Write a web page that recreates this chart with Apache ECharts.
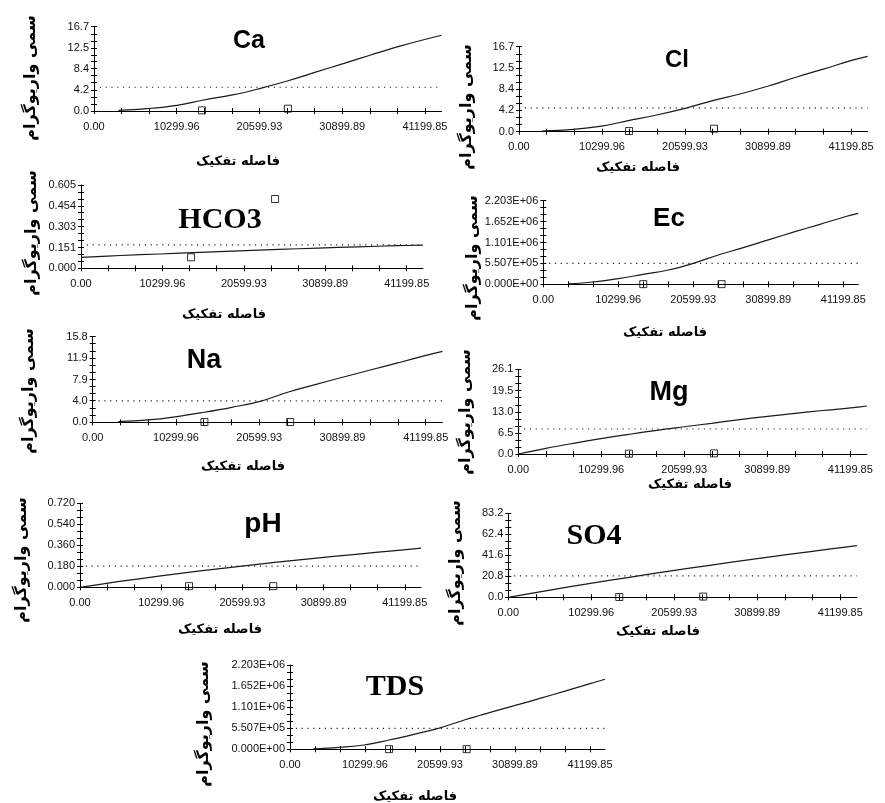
<!DOCTYPE html>
<html><head><meta charset="utf-8">
<script src="https://cdn.jsdelivr.net/npm/echarts@6/dist/echarts.min.js"></script>
<style>html,body{margin:0;padding:0;background:#fff}#c{width:885px;height:803px}</style>
</head><body><div id="c"></div>
<script>
// ---------- DATA ----------
const xTickLabels = ['0.00', '10299.96', '20599.93', '30899.89', '41199.85'];
const yAxisName = 'سمی واریوگرام';
const xAxisName = 'فاصله تفکیک';

// Ca
const caYTicks = ['0.0', '4.2', '8.4', '12.5', '16.7'];
const caCurveDist = [3040, 6575, 10320, 13650, 17400, 20720, 24050, 27380, 31130, 34460, 38200, 43260];
const caCurveVal  = [0.13, 0.46, 1.12, 2.18, 3.23, 4.49, 5.94, 7.59, 9.44, 11.1, 12.9, 15.0];
const caLagDist = [13440, 24140];
const caLagVal  = [0.13, 0.46];
const caSill = 4.7;

// Cl
const clYTicks = ['0.0', '4.2', '8.4', '12.5', '16.7'];
const clCurveDist = [2810, 6740, 10260, 13570, 17080, 20600, 24030, 27430, 30940, 34370, 37770, 41280, 43260];
const clCurveVal  = [0.13, 0.46, 1.11, 2.16, 3.28, 4.59, 6.1, 7.4, 8.97, 10.7, 12.3, 14.0, 14.8];
const clLagDist = [13650, 24200];
const clLagVal  = [0.13, 0.59];
const clSill = 4.7;

// HCO3
const hco3YTicks = ['0.000', '0.151', '0.303', '0.454', '0.605'];
const hco3CurveDist = [0, 5000, 10000, 15000, 20000, 25000, 30000, 35000, 40000, 43260];
const hco3CurveVal  = [0.080, 0.093, 0.104, 0.115, 0.126, 0.137, 0.147, 0.156, 0.164, 0.168];
const hco3LagDist = [13920, 24550];
const hco3LagVal  = [0.08, 0.503];
const hco3Sill = 0.17;

// Ec
const ecYTicks = ['0.000E+00', '5.507E+05', '1.101E+06', '1.652E+06', '2.203E+06'];
const ecCurveDist = [3430, 6870, 10300, 13730, 17170, 20600, 24030, 27470, 31130, 34560, 38000, 41430, 43260];
const ecCurveVal  = [8800, 61000, 149000, 263000, 377000, 553000, 772000, 965000, 1185000, 1387000, 1580000, 1780000, 1870000];
const ecLagDist = [13730, 24480];
const ecLagVal  = [4000, 4000];
const ecSill = 550000;

// Na
const naYTicks = ['0.0', '4.0', '7.9', '11.9', '15.8'];
const naCurveDist = [3180, 6890, 10400, 13780, 17210, 20720, 24220, 27520, 31030, 34330, 37840, 41350, 43260];
const naCurveVal  = [0.12, 0.43, 1.05, 1.85, 2.77, 3.87, 5.6, 6.96, 8.36, 9.66, 11.0, 12.4, 13.1];
const naLagDist = [13820, 24430];
const naLagVal  = [0.05, 0.05];
const naSill = 3.95;

// Mg
const mgYTicks = ['0.0', '6.5', '13.0', '19.5', '26.1'];
const mgCurveDist = [0, 3430, 6830, 10260, 13730, 17170, 20600, 23990, 27510, 30940, 34330, 37770, 41240, 43260];
const mgCurveVal  = [0, 1.75, 3.29, 4.73, 6.06, 7.3, 8.4, 9.46, 10.6, 11.6, 12.5, 13.4, 14.2, 14.8];
const mgLagDist = [13730, 24280];
const mgLagVal  = [0.1, 0.2];
const mgSill = 7.7;

// pH
const phYTicks = ['0.000', '0.180', '0.360', '0.540', '0.720'];
const phCurveDist = [0, 5000, 10000, 15000, 20000, 25000, 30000, 35000, 40000, 43260];
const phCurveVal  = [0, 0.05, 0.095, 0.138, 0.178, 0.215, 0.25, 0.283, 0.315, 0.335];
const phLagDist = [13830, 24520];
const phLagVal  = [0.01, 0.01];
const phSill = 0.182;

// SO4
const so4YTicks = ['0.0', '20.8', '41.6', '62.4', '83.2'];
const so4CurveDist = [0, 5000, 10000, 15000, 20000, 25000, 30000, 35000, 40000, 43260];
const so4CurveVal  = [0, 6.9, 13.5, 19.8, 25.9, 31.7, 37.3, 42.7, 47.9, 51.2];
const so4LagDist = [13770, 24190];
const so4LagVal  = [0.3, 0.7];
const so4Sill = 21.3;

// TDS
const tdsYTicks = ['0.000E+00', '5.507E+05', '1.101E+06', '1.652E+06', '2.203E+06'];
const tdsCurveDist = [3200, 6730, 10160, 13600, 17030, 20370, 23940, 27380, 30810, 34330, 37770, 41200, 43260];
const tdsCurveVal  = [8700, 52000, 113000, 244000, 392000, 548000, 767000, 958000, 1140000, 1330000, 1520000, 1715000, 1830000];
const tdsLagDist = [13600, 24260];
const tdsLagVal  = [4000, 4000];
const tdsSill = 548000;

// ---------- LAYOUT ----------
const panels = [
  {title:'Ca',   serif:false, fs:25, tp:[249,41],  grid:[94,26.7,347.5,84.3],   xn:[238,162], yn:[31,78],
   yt:caYTicks, cd:caCurveDist, cv:caCurveVal, ld:caLagDist, lv:caLagVal, sill:caSill},
  {title:'Cl',   serif:false, fs:24, tp:[677,60],  grid:[519,46.7,348.6,85],    xn:[638,168], yn:[467,107],
   yt:clYTicks, cd:clCurveDist, cv:clCurveVal, ld:clLagDist, lv:clLagVal, sill:clSill},
  {title:'HCO3', serif:true,  fs:30, tp:[220,220], grid:[81,185,342,83.3],      xn:[224,315], yn:[32,233],
   yt:hco3YTicks, cd:hco3CurveDist, cv:hco3CurveVal, ld:hco3LagDist, lv:hco3LagVal, sill:hco3Sill},
  {title:'Ec',   serif:false, fs:26, tp:[669,219], grid:[543.3,200.7,315,83.6], xn:[665,333], yn:[473,258],
   yt:ecYTicks, cd:ecCurveDist, cv:ecCurveVal, ld:ecLagDist, lv:ecLagVal, sill:ecSill},
  {title:'Na',   serif:false, fs:27, tp:[204,361], grid:[92.7,336.7,349.7,85.6],xn:[243,467], yn:[29,391],
   yt:naYTicks, cd:naCurveDist, cv:naCurveVal, ld:naLagDist, lv:naLagVal, sill:naSill},
  {title:'Mg',   serif:false, fs:27, tp:[669,393], grid:[518.3,369.3,348.6,84.7],xn:[690,485], yn:[466,412],
   yt:mgYTicks, cd:mgCurveDist, cv:mgCurveVal, ld:mgLagDist, lv:mgLagVal, sill:mgSill},
  {title:'pH',   serif:false, fs:28, tp:[263,524], grid:[80,503.3,341,84],      xn:[220,630], yn:[22,560],
   yt:phYTicks, cd:phCurveDist, cv:phCurveVal, ld:phLagDist, lv:phLagVal, sill:phSill},
  {title:'SO4',  serif:true,  fs:30, tp:[594,536], grid:[508.3,513.3,348.6,84], xn:[658,632], yn:[456,563],
   yt:so4YTicks, cd:so4CurveDist, cv:so4CurveVal, ld:so4LagDist, lv:so4LagVal, sill:so4Sill},
  {title:'TDS',  serif:true,  fs:30, tp:[395,687], grid:[290,665,315,84.3],     xn:[415,797], yn:[204,724],
   yt:tdsYTicks, cd:tdsCurveDist, cv:tdsCurveVal, ld:tdsLagDist, lv:tdsLagVal, sill:tdsSill}
];

const xMajor = xTickLabels.map(Number);
const xMax = xMajor[xMajor.length - 1] * 1.05;
function withMinor(major) {
  const out = [];
  for (let i = 0; i < major.length; i++) {
    out.push(major[i]);
    if (i < major.length - 1) {
      const s = (major[i + 1] - major[i]) / 3;
      out.push(major[i] + s, major[i] + 2 * s);
    }
  }
  return out;
}
const xAllTicks = withMinor(xMajor);
function nearestLabel(labels, nums, v) {
  let b = 0, bd = Infinity;
  nums.forEach((n, i) => { const d = Math.abs(n - v); if (d < bd) { bd = d; b = i; } });
  return labels[b];
}

const FONT = '"Liberation Sans", Arial, sans-serif';
const grid = [], xAxis = [], yAxis = [], series = [], graphic = [];

panels.forEach((p, gi) => {
  const [l, t, w, h] = p.grid;
  grid.push({left: l, top: t, width: w, height: h, containLabel: false, outerBoundsMode: 'none'});
  const yNums = p.yt.map(Number);
  const yMax = yNums[yNums.length - 1];
  const yAll = withMinor(yNums);
  const lineSt = {show: true, lineStyle: {color: '#000', width: 1}};
  xAxis.push({
    type: 'value', gridIndex: gi, min: 0, max: xMax, position: 'bottom',
    axisLine: lineSt, splitLine: {show: false},
    axisTick: {show: true, inside: false, length: 3, customValues: xAllTicks, lineStyle: {color: '#000'}},
    axisLabel: {show: true, customValues: xMajor, margin: 10, fontFamily: FONT, fontSize: 11, color: '#111',
      formatter: v => nearestLabel(xTickLabels, xMajor, v)}
  });
  xAxis.push({
    type: 'value', gridIndex: gi, min: 0, max: xMax, position: 'bottom',
    axisLine: {show: false}, splitLine: {show: false}, axisLabel: {show: false},
    axisTick: {show: true, inside: true, length: 3, customValues: xAllTicks, lineStyle: {color: '#000'}}
  });
  yAxis.push({
    type: 'value', gridIndex: gi, min: 0, max: yMax, position: 'left',
    axisLine: lineSt, splitLine: {show: false},
    axisTick: {show: true, inside: false, length: 3, customValues: yAll, lineStyle: {color: '#000'}},
    axisLabel: {show: true, customValues: yNums, margin: 5, fontFamily: FONT, fontSize: 11, color: '#111',
      formatter: v => nearestLabel(p.yt, yNums, v)}
  });
  yAxis.push({
    type: 'value', gridIndex: gi, min: 0, max: yMax, position: 'left',
    axisLine: {show: false}, splitLine: {show: false}, axisLabel: {show: false},
    axisTick: {show: true, inside: true, length: 3, customValues: yAll, lineStyle: {color: '#000'}}
  });
  const xi = gi * 2, yi = gi * 2;
  series.push({
    type: 'line', xAxisIndex: xi, yAxisIndex: yi, smooth: 0.4, showSymbol: false, silent: true,
    lineStyle: {color: '#1a1a1a', width: 1.2},
    data: p.cd.map((d, i) => [d, p.cv[i]])
  });
  series.push({
    type: 'line', xAxisIndex: xi, yAxisIndex: yi, showSymbol: false, silent: true,
    lineStyle: {color: '#222', width: 1.2, type: [1.2, 4.6]},
    data: [[0, p.sill], [xMax, p.sill]]
  });
  series.push({
    type: 'scatter', xAxisIndex: xi, yAxisIndex: yi, symbol: 'rect', symbolSize: 7, silent: true,
    itemStyle: {color: 'rgba(255,255,255,0)', borderColor: '#000', borderWidth: 1},
    data: p.ld.map((d, i) => [d, p.lv[i]])
  });
  graphic.push({
    type: 'text', x: p.tp[0], y: p.tp[1], silent: true,
    style: {text: p.title, align: 'center', verticalAlign: 'middle', fill: '#000',
      font: p.serif ? `bold ${p.fs}px "Liberation Serif", "Times New Roman", serif` : `bold ${p.fs}px "Liberation Sans", Arial, sans-serif`}
  });
  graphic.push({
    type: 'text', x: p.xn[0], y: p.xn[1], silent: true,
    style: {text: xAxisName, align: 'center', verticalAlign: 'middle', fill: '#000',
      font: 'bold 13px "DejaVu Sans", sans-serif'}
  });
  graphic.push({
    type: 'text', x: p.yn[0], y: p.yn[1], rotation: Math.PI / 2, silent: true,
    style: {text: yAxisName, align: 'center', verticalAlign: 'middle', fill: '#000',
      font: 'bold 16px "DejaVu Sans", sans-serif'}
  });
});

const chart = echarts.init(document.getElementById('c'), null, {renderer: 'canvas'});
chart.setOption({
  animation: false,
  backgroundColor: '#fff',
  grid, xAxis, yAxis, series, graphic
});
</script>
</body></html>
